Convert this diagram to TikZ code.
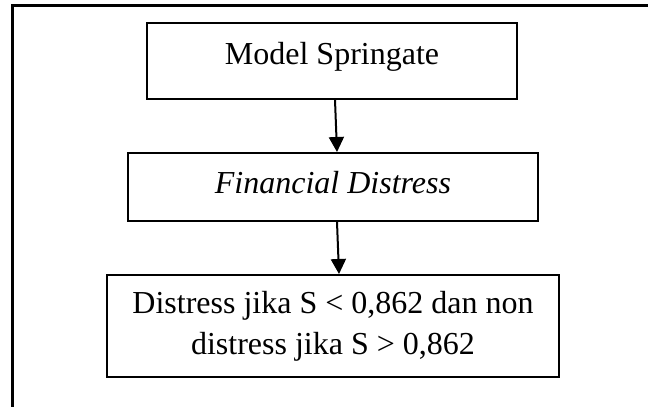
\documentclass[tikz,border=0pt]{standalone}
\usepackage{fontspec}
\setmainfont{Liberation Serif}
\usetikzlibrary{arrows.meta}
\begin{document}
\begin{tikzpicture}[x=1pt,y=-1pt,
  flowbox/.style={draw,line width=2pt,inner sep=0pt,align=center,
    font=\fontsize{32}{41}\selectfont},
  flowarrow/.style={line width=2pt,-{Triangle[length=15pt,width=15pt]}}]
  \useasboundingbox (0,0) rectangle (648,407);
  % outer frame (left and top edges)
  \draw[line width=3pt] (12,420) -- (12,5) -- (660,5);
  % boxes
  \node[flowbox,minimum width=370pt,minimum height=76pt,
    text height=22pt,text depth=16pt] (m1) at (332,61) {Model Springate};
  \node[flowbox,minimum width=410pt,minimum height=68pt,
    text height=22pt,text depth=10pt] (m2) at (333,187) {\itshape Financial Distress};
  \node[flowbox,minimum width=452pt,minimum height=102pt] (m3) at (333,326)
    {Distress jika S < 0,862 dan non\\distress jika S > 0,862};
  % connectors
  \draw[flowarrow] ([xshift=3pt]m1.south) -- ([xshift=4pt]m2.north);
  \draw[flowarrow] ([xshift=4pt]m2.south) -- ([xshift=6pt]m3.north);
\end{tikzpicture}
\end{document}
